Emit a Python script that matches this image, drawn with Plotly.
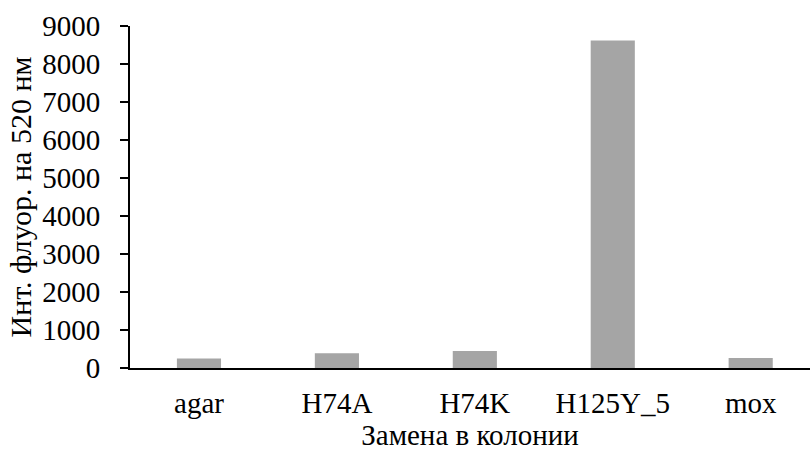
import plotly.graph_objects as go

# Colony substitutions and fluorescence intensity at 520 nm
categories = ["agar", "H74A", "H74K", "H125Y_5", "mox"]
intensity = [250, 390, 450, 8620, 265]
y_ticks = [0, 1000, 2000, 3000, 4000, 5000, 6000, 7000, 8000, 9000]

FONT = "Liberation Serif"
SIZE = 29

fig = go.Figure(
    go.Bar(
        x=categories,
        y=intensity,
        marker=dict(color="#A5A5A5", line=dict(width=0)),
        width=0.32,
    )
)

fig.update_layout(
    width=810,
    height=453,
    margin=dict(l=130, r=0, t=26, b=85),
    paper_bgcolor="white",
    plot_bgcolor="white",
    font=dict(family=FONT, size=SIZE, color="black"),
    showlegend=False,
)

fig.update_xaxes(
    type="category",
    range=[-0.5, 4.43],
    showline=True,
    linecolor="black",
    linewidth=2,
    ticks="",
    showgrid=False,
    zeroline=False,
    ticklabelstandoff=8,
    tickfont=dict(family=FONT, size=SIZE, color="black"),
    title=dict(text="Замена в колонии", font=dict(family=FONT, size=SIZE, color="black"), standoff=6),
)

fig.update_yaxes(
    range=[0, 9000],
    tickvals=y_ticks,
    ticktext=[str(v) for v in y_ticks],
    showline=True,
    linecolor="black",
    linewidth=2,
    ticks="outside",
    ticklen=8,
    tickwidth=2,
    tickcolor="black",
    showgrid=False,
    zeroline=False,
    ticklabelstandoff=14,
    tickfont=dict(family=FONT, size=SIZE, color="black"),
    title=dict(text="Инт. флуор. на 520 нм", font=dict(family=FONT, size=30, color="black"), standoff=2),
)

fig.write_html("out.html")
